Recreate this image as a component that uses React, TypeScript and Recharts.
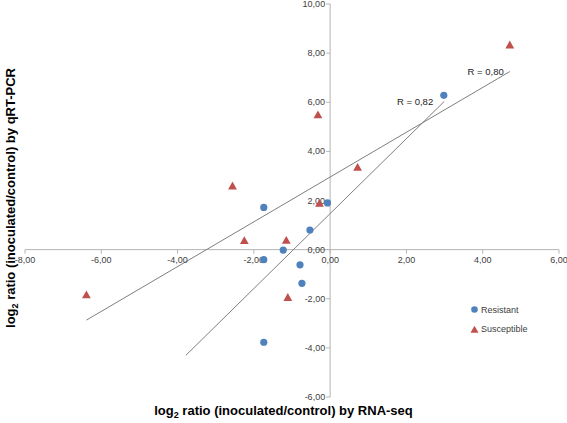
import {
  Legend,
  ReferenceDot,
  ReferenceLine,
  Scatter,
  ScatterChart,
  XAxis,
  YAxis,
} from "recharts";

const resistant = [
  { x: 2.98, y: 6.28 },
  { x: -1.74, y: 1.72 },
  { x: -0.07, y: 1.9 },
  { x: -0.53, y: 0.8 },
  { x: -1.23, y: -0.02 },
  { x: -1.74, y: -0.41 },
  { x: -0.79, y: -0.62 },
  { x: -0.74, y: -1.37 },
  { x: -1.74, y: -3.77 },
];

const susceptible = [
  { x: 4.71, y: 8.33 },
  { x: -0.32, y: 5.49 },
  { x: 0.72, y: 3.35 },
  { x: -2.56, y: 2.59 },
  { x: -0.28, y: 1.88 },
  { x: -2.25, y: 0.37 },
  { x: -1.15, y: 0.38 },
  { x: -6.39, y: -1.84 },
  { x: -1.11, y: -1.95 },
];

// trend lines, endpoints as drawn in the source
const fitSusceptible = [
  { x: -6.39, y: -2.87 },
  { x: 4.71, y: 7.25 },
];
const fitResistant = [
  { x: -3.78, y: -4.3 },
  { x: 2.99, y: 6.03 },
];

const xTicks = [-8, -6, -4, -2, 0, 2, 4, 6];
const yTicks = [-6, -4, -2, 0, 2, 4, 6, 8, 10];

const BLUE = "#4f81bd";
const RED = "#c0504d";
const AXIS = "#b4b4b4";
const TXT = "#404040";
const FONT = '"Liberation Sans", Arial, sans-serif';

const fmt = (v: number) => v.toFixed(2).replace(".", ",");

const dot = (p: any) => <circle cx={p.cx} cy={p.cy} r={3.6} fill={BLUE} />;
const tri = (p: any) => (
  <polygon
    points={`${p.cx},${p.cy - 4.4} ${p.cx + 4.4},${p.cy + 3.4} ${p.cx - 4.4},${p.cy + 3.4}`}
    fill={RED}
  />
);

const LegendBox = ({ payload }: any) => (
  <div style={{ fontFamily: FONT, fontSize: 9, color: TXT }}>
    {(payload || []).map((e: any) => (
      <div key={e.value} style={{ display: "flex", alignItems: "center", height: 19.5 }}>
        <svg width={9} height={9}>
          {e.value === "Resistant" ? (
            <circle cx={4.5} cy={4.5} r={3.3} fill={BLUE} />
          ) : (
            <polygon points="4.5,0.8 8.5,7.8 0.5,7.8" fill={RED} />
          )}
        </svg>
        <span style={{ marginLeft: 2 }}>{e.value}</span>
      </div>
    ))}
  </div>
);

export default function App() {
  return (
    <div style={{ position: "absolute", left: 0, top: 0, width: 567, height: 423, background: "#fff" }}>
      <ScatterChart width={567} height={423} margin={{ top: 4, right: 8, bottom: 26, left: 25 }}>
        <XAxis type="number" dataKey="x" domain={[-8, 6]} hide />
        <YAxis type="number" dataKey="y" domain={[-6, 10]} hide />
        <ReferenceLine y={0} stroke={AXIS} strokeWidth={1} />
        <ReferenceLine x={0} stroke={AXIS} strokeWidth={1} />
        {xTicks.map((t) => (
          <ReferenceDot
            key={"x" + t}
            x={t}
            y={0}
            ifOverflow="visible"
            shape={(p: any) => (
              <g>
                <line x1={p.cx} y1={p.cy} x2={p.cx} y2={p.cy + 4} stroke={AXIS} />
                <text x={p.cx} y={p.cy + 13} textAnchor="middle" fontSize={9} fontFamily={FONT} fill={TXT}>
                  {fmt(t)}
                </text>
              </g>
            )}
          />
        ))}
        {yTicks.map((t) => (
          <ReferenceDot
            key={"y" + t}
            x={0}
            y={t}
            ifOverflow="visible"
            shape={(p: any) => (
              <g>
                <line x1={p.cx - 4} y1={p.cy} x2={p.cx} y2={p.cy} stroke={AXIS} />
                <text x={p.cx - 5} y={p.cy + 3} textAnchor="end" fontSize={9} fontFamily={FONT} fill={TXT}>
                  {fmt(t)}
                </text>
              </g>
            )}
          />
        ))}
        <ReferenceLine segment={fitSusceptible} stroke="#7f7f7f" strokeWidth={1} ifOverflow="visible" />
        <ReferenceLine segment={fitResistant} stroke="#7f7f7f" strokeWidth={1} ifOverflow="visible" />
        <ReferenceDot
          x={fitSusceptible[1].x}
          y={fitSusceptible[1].y}
          ifOverflow="visible"
          shape={(p: any) => (
            <text x={p.cx - 6} y={p.cy + 3} textAnchor="end" fontSize={9.5} fontFamily={FONT} fill="#222">
              R = 0,80
            </text>
          )}
        />
        <ReferenceDot
          x={fitResistant[1].x}
          y={fitResistant[1].y}
          ifOverflow="visible"
          shape={(p: any) => (
            <text x={p.cx - 11} y={p.cy + 3.5} textAnchor="end" fontSize={9.5} fontFamily={FONT} fill="#222">
              R = 0,82
            </text>
          )}
        />
        <Scatter name="Resistant" data={resistant} fill={BLUE} shape={dot} isAnimationActive={false} />
        <Scatter name="Susceptible" data={susceptible} fill={RED} shape={tri} isAnimationActive={false} />
        <Legend
          layout="vertical"
          align="center"
          verticalAlign="middle"
          content={LegendBox}
          wrapperStyle={{ left: 470, top: 300, width: 90, height: 40 }}
        />
      </ScatterChart>
      <div
        style={{
          position: "absolute",
          left: 0,
          top: 403,
          width: 567,
          textAlign: "center",
          fontFamily: FONT,
          fontWeight: "bold",
          fontSize: 13,
          color: "#000",
          lineHeight: "16px",
        }}
      >
        log<sub style={{ fontSize: 9, verticalAlign: -3 }}>2</sub> ratio (inoculated/control) by RNA-seq
      </div>
      <div
        style={{
          position: "absolute",
          left: 13 - 160,
          top: 196 - 8,
          width: 320,
          textAlign: "center",
          fontFamily: FONT,
          fontWeight: "bold",
          fontSize: 13,
          color: "#000",
          lineHeight: "16px",
          transform: "rotate(-90deg)",
        }}
      >
        log<sub style={{ fontSize: 9, verticalAlign: -3 }}>2</sub> ratio (inoculated/control) by qRT-PCR
      </div>
    </div>
  );
}
